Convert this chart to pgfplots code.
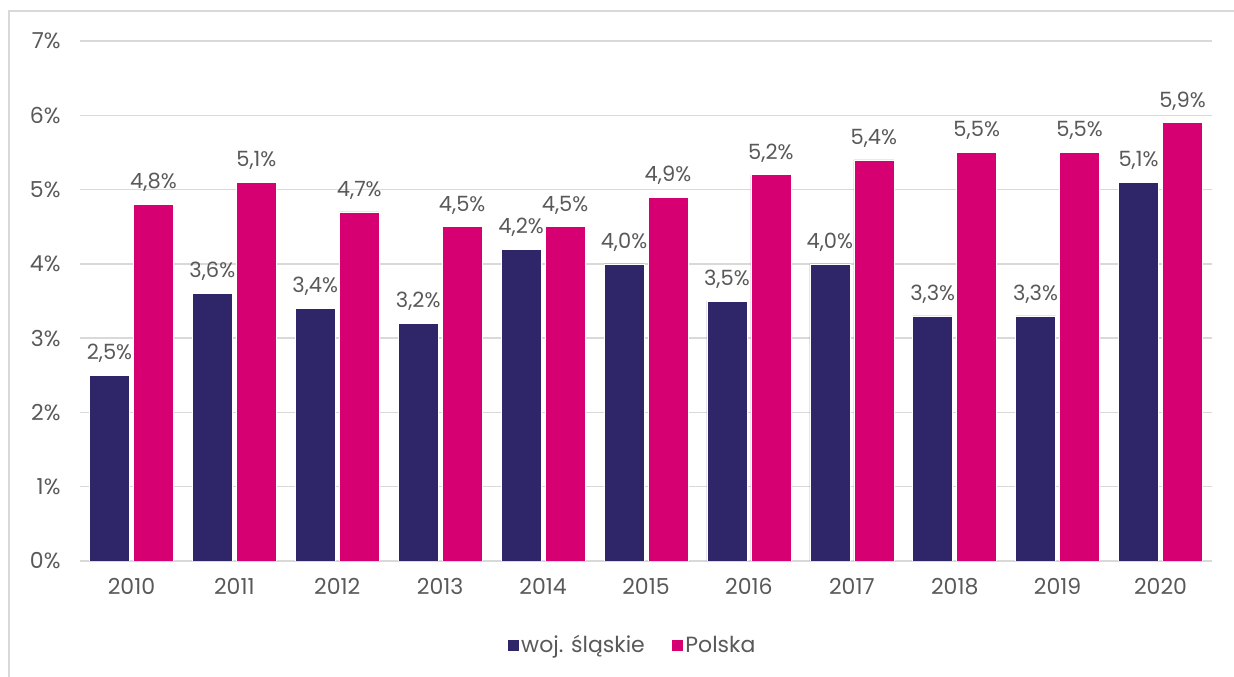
\documentclass[border=0pt]{standalone}
\usepackage{pgfplots}
\pgfplotsset{compat=1.18}
\usepackage{fontspec}
\setmainfont{Poppins}
\definecolor{navy}{RGB}{46,38,104}
\definecolor{mag}{RGB}{214,0,114}
\definecolor{txt}{RGB}{89,89,89}
\definecolor{grd}{RGB}{217,217,217}
\pgfplotstableread{
x a b
0 2.5 4.8
1 3.6 5.1
2 3.4 4.7
3 3.2 4.5
4 4.2 4.5
5 4.0 4.9
6 3.5 5.2
7 4.0 5.4
8 3.3 5.5
9 3.3 5.5
10 5.1 5.9
}\data
\begin{document}
\begin{tikzpicture}[x=1pt,y=1pt]
\useasboundingbox (-80,-116) rectangle (1154,561);
\draw[grd,line width=1.2pt] (-71,-116) -- (-71,550) -- (1154,550);
\begin{axis}[
  at={(0,0)},anchor=south west,
  scale only axis, width=1132pt, height=520pt,
  xmin=-0.5, xmax=10.5, ymin=0, ymax=7,
  xtick=data,
  xticklabels={2010,2011,2012,2013,2014,2015,2016,2017,2018,2019,2020},
  ytick={0,1,...,7},
  yticklabel={\pgfmathprintnumber{\tick}\%},
  /pgf/number format/assume math mode=true,
  axis line style={draw=none},
  major tick length=0pt,
  ymajorgrids, grid style={grd,line width=1.5pt},
  ybar=4pt, bar width=40pt,
  tick label style={font=\fontsize{22}{26}\selectfont, text=txt},
  xticklabel style={yshift=-14pt},
  yticklabel style={xshift=-16pt},
  nodes near coords={\pgfmathprintnumber[fixed,fixed zerofill,precision=1,use comma,assume math mode=true]{\pgfplotspointmeta}\%},
  every node near coord/.append style={font=\fontsize{21}{25}\selectfont, text=txt, yshift=9pt},
  legend style={at={(0.5,0)}, anchor=center, yshift=-84pt, xshift=-14pt, draw=none, legend columns=2,
    font=\fontsize{22}{26}\selectfont, text=txt,
    /tikz/every even column/.append style={column sep=24pt}},
  legend image code/.code={\fill[#1] (0pt,-6pt) rectangle (12pt,6pt);},
]
\addplot[fill=navy, draw=white, line width=0.6pt] table[x=x,y=a]{\data};
\addplot[fill=mag, draw=white, line width=0.6pt] table[x=x,y=b]{\data};
\legend{woj. śląskie, Polska}
\end{axis}
\end{tikzpicture}
\end{document}
